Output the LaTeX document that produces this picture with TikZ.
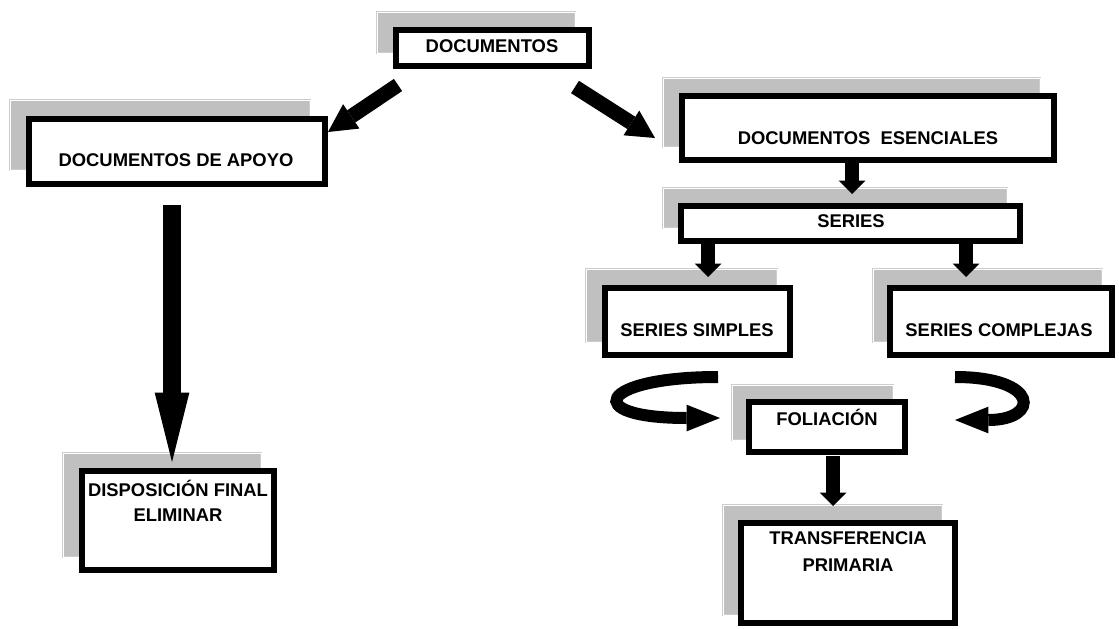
\documentclass[tikz,border=0pt]{standalone}
\usepackage{fontspec}
\setmainfont{Liberation Sans}
\usetikzlibrary{arrows.meta,calc,fit,positioning}

\definecolor{shadegray}{RGB}{192,192,192}
\definecolor{shadeedge}{RGB}{205,205,205}

\begin{document}
\begin{tikzpicture}[x=0.75pt,y=-0.75pt,
  shadowbox/.style={rectangle,fill=shadegray,draw=shadeedge,double=white,double distance=0.5pt,line width=0.6pt,inner sep=0pt,outer sep=0pt},
  docbox/.style={rectangle,draw=black,fill=white,line width=4.5pt,inner sep=0pt,outer sep=0pt},
  boxtext/.style={anchor=base,align=center,inner sep=0pt,font=\fontsize{13.8}{18.75}\selectfont\bfseries},
  fatarrow/.style={line width=11pt,-{Triangle[length=21pt,width=22pt,line width=0pt]}},
  longarrow/.style={line width=13.5pt,-{Triangle[length=52pt,width=26pt,line width=0pt]}},
  stubarrow/.style={line width=10pt,-{Triangle[length=10pt,width=20pt,line width=0pt]}},
  curlarrow/.style={line width=9pt,-{Triangle[length=25pt,width=20pt,line width=0pt]}}]
  \useasboundingbox (0,0) rectangle (1119,628);

  % grey shadows behind the boxes
  \node[shadowbox, fit={(377,12) (575,53)}] (docs-s) {};
  \node[shadowbox, fit={(10,100) (310,170)}] (apoyo-s) {};
  \node[shadowbox, fit={(663,78) (1040,147)}] (esen-s) {};
  \node[shadowbox, fit={(663,188) (1007,228)}] (series-s) {};
  \node[shadowbox, fit={(586,269) (777,342)}] (simples-s) {};
  \node[shadowbox, fit={(873,269) (1102,342)}] (complejas-s) {};
  \node[shadowbox, fit={(732,385) (893,440)}] (folia-s) {};
  \node[shadowbox, fit={(63,453) (261,557)}] (dispo-s) {};
  \node[shadowbox, fit={(723,505) (942,615)}] (transf-s) {};

  % boxes
  \node[docbox, fit={(396,30) (589,66)}] (docs) {};
  \node[docbox, fit={(29,119) (325,184)}] (apoyo) {};
  \node[docbox, fit={(682,96) (1054,160)}] (esen) {};
  \node[docbox, fit={(681,206) (1020,241)}] (series) {};
  \node[docbox, fit={(605,288) (790,355)}] (simples) {};
  \node[docbox, fit={(890,288) (1112,355)}] (complejas) {};
  \node[docbox, fit={(749,402) (905,452)}] (folia) {};
  \node[docbox, fit={(82,471) (274,570)}] (dispo) {};
  \node[docbox, fit={(741,523) (955,623)}] (transf) {};

  \node[boxtext] (docs-t) at (492,52) {DOCUMENTOS};
  \node[boxtext] (apoyo-t) at (176,166) {DOCUMENTOS DE APOYO};
  \node[boxtext] (esen-t) at (868,144) {DOCUMENTOS~~ESENCIALES};
  \node[boxtext] (series-t) at (851,227.5) {SERIES};
  \node[boxtext] (simples-t) at (697,336) {SERIES SIMPLES};
  \node[boxtext] (complejas-t) at (999,336) {SERIES COMPLEJAS};
  \node[boxtext] (folia-t) at (827,425.5) {FOLIACIÓN};
  \node[boxtext] (dispo-t) at (178,521) {DISPOSICIÓN FINAL\\ELIMINAR};
  \node[boxtext, font=\fontsize{13.8}{20.25}\selectfont\bfseries] (transf-t) at (848,571) {TRANSFERENCIA\\PRIMARIA};

  % arrows
  \draw[fatarrow] ($(docs.south west)+(2,19)$) -- ($(apoyo.north east)+(3,13)$);
  \draw[fatarrow] ($(docs.south east)+(-14,21)$) -- ($(esen.north west)+(-27,42)$);
  \draw[longarrow] ($(apoyo.south)+(-5,21)$) -- ($(dispo.north)+(-6,-9)$);
  \draw[stubarrow] ($(esen.south)+(-16,3)$) -- ($(series.north)+(1.5,-12)$);
  \draw[stubarrow] ($(series.south west)+(27,3)$) -- ($(simples.north)+(10.5,-11)$);
  \draw[stubarrow] ($(series.south east)+(-54,3)$) -- ($(complejas.north)+(-35,-11)$);
  \draw[stubarrow] ($(folia.south)+(6,4)$) -- ($(transf.north)+(-15,-17)$);

  \draw[curlarrow] ($(simples.south east)+(-72,22)$) .. controls +(-120,0) and +(-140,0) .. ($(folia.west)+(-29,-9)$);
  \draw[curlarrow] ($(complejas.south west)+(65,22)$) .. controls +(85,0) and +(85,0) .. ($(folia.east)+(50,-7)$);

\end{tikzpicture}
\end{document}
